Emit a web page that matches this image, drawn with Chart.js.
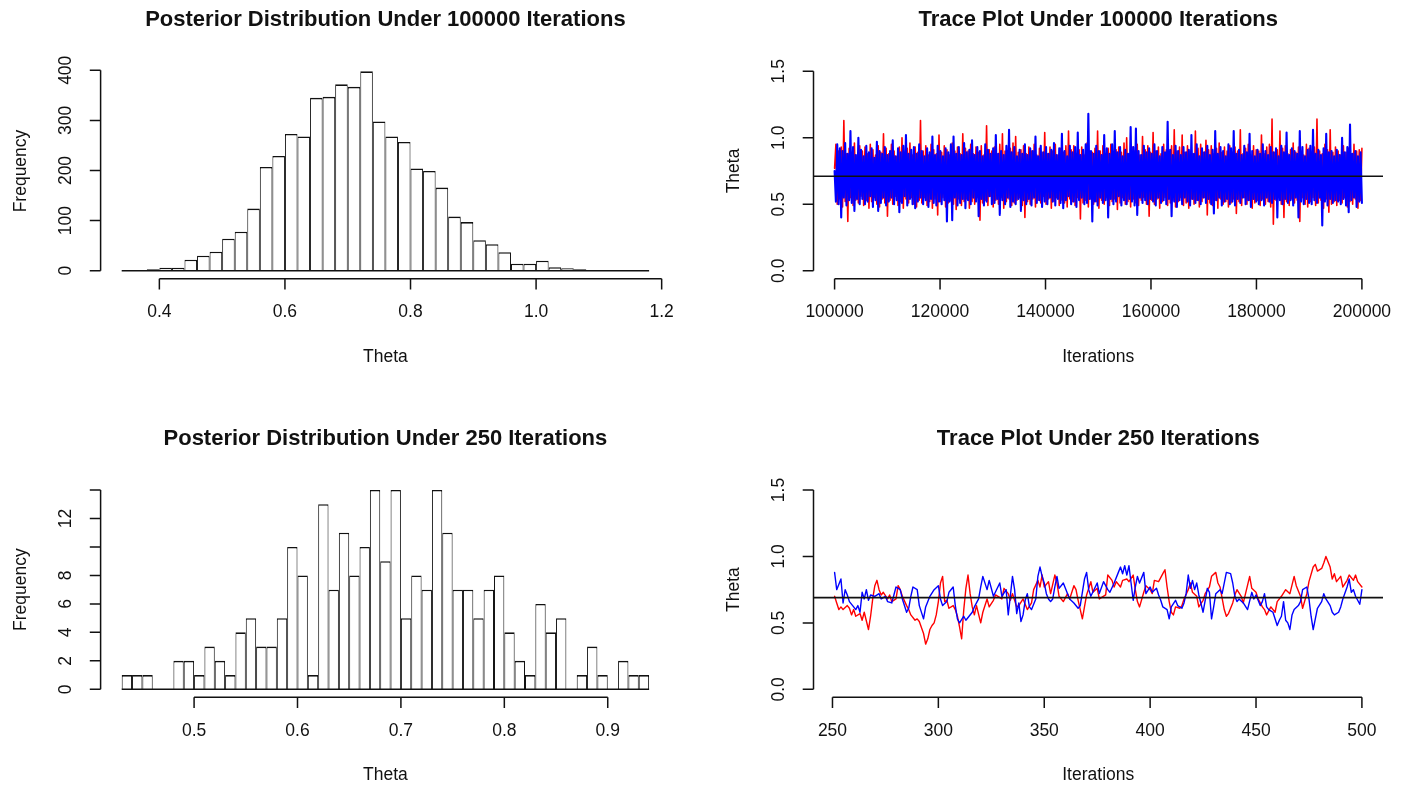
<!DOCTYPE html>
<html>
<head>
<meta charset="utf-8">
<title>Posterior and trace plots</title>
<style>
  html, body { margin: 0; padding: 0; background: #fff; }
  #page { position: relative; width: 1406px; height: 788px; overflow: hidden; }
  #page canvas { position: absolute; }
</style>
</head>
<body>
<div id="page">
  <canvas id="histLong" width="703" height="394" style="left:0;top:0"></canvas>
  <canvas id="traceLong" width="703" height="394" style="left:703px;top:0"></canvas>
  <canvas id="histShort" width="703" height="394" style="left:0;top:394px"></canvas>
  <canvas id="traceShort" width="703" height="394" style="left:703px;top:394px"></canvas>
</div>

<script src="https://cdn.jsdelivr.net/npm/chart.js@4.4.1/dist/chart.umd.min.js"></script>
<script>
    // histogram of theta, 100000 iterations (bins of 0.02 starting at 0.34)
    const binStartLong = 0.34;
    const binWidthLong = 0.02;
    const countsLong = [0, 0, 3, 6, 6, 22, 30, 38, 64, 78, 124, 207, 229, 273, 268, 345, 347, 372, 367, 398,
                        298, 268, 257, 204, 199, 166, 108, 97, 61, 53, 37, 14, 14, 20, 7, 5, 3, 0, 0, 0, 0, 0];

    // histogram of theta, 250 iterations (bins of 0.01 starting at 0.43)
    const binStartShort = 0.43;
    const binWidthShort = 0.01;
    const countsShort = [1, 1, 1, 0, 0, 2, 2, 1, 3, 2, 1, 4, 5, 3, 3, 5, 10, 8, 1, 13, 7, 11, 8, 10, 14, 9,
                         14, 5, 8, 7, 14, 11, 7, 7, 5, 7, 8, 4, 2, 1, 6, 4, 5, 0, 1, 3, 1, 0, 2, 1, 1];

    const histLongTicksX = [0.4, 0.6, 0.8, 1.0, 1.2];
    const histLongLabelsX = ['0.4', '0.6', '0.8', '1.0', '1.2'];
    const histLongTicksY = [0, 100, 200, 300, 400];
    const histLongLabelsY = ['0', '100', '200', '300', '400'];

    const histShortTicksX = [0.5, 0.6, 0.7, 0.8, 0.9];
    const histShortLabelsX = ['0.5', '0.6', '0.7', '0.8', '0.9'];
    const histShortTicksY = [0, 2, 4, 6, 8, 10, 12, 14];
    const histShortLabelsY = ['0', '2', '4', '6', '8', '', '12', ''];

    const thetaTicks = [0, 0.5, 1.0, 1.5];
    const thetaLabels = ['0.0', '0.5', '1.0', '1.5'];

    const traceLongTicksX = [100000, 120000, 140000, 160000, 180000, 200000];
    const traceShortTicksX = [250, 300, 350, 400, 450, 500];

    // chains over iterations 100001..200000 (thinned)
    const longFirstIter = 100001;
    const longLastIter = 200000;
    const redLong = [
        0.77,0.95,0.50,0.90,0.54,0.93,0.48,1.13,0.52,0.88,0.37,0.92,0.55,0.89,0.49,0.96,0.53,0.87,0.51,0.94,
        0.56,0.90,0.49,0.93,0.53,0.88,0.47,0.95,0.52,0.91,0.55,0.87,0.50,0.94,0.48,0.89,0.54,1.03,0.51,0.92,
        0.41,0.88,0.53,0.95,0.50,0.90,0.56,0.86,0.49,0.93,0.52,1.00,0.47,0.89,0.54,0.92,0.51,0.96,0.55,0.87,
        0.50,0.93,0.48,0.89,0.53,1.13,0.51,0.90,0.55,0.94,0.49,0.87,0.52,0.95,0.47,0.91,0.54,0.88,0.42,1.02,
        0.52,0.89,0.55,0.94,0.48,0.91,0.51,0.87,0.53,0.96,0.50,0.90,0.46,0.93,0.54,0.88,0.49,1.03,0.52,0.92,
        0.54,0.90,0.47,0.95,0.52,0.88,0.50,0.93,0.55,0.89,0.38,0.94,0.51,0.87,0.53,1.09,0.49,0.91,0.56,0.90,
        0.48,0.93,0.53,0.88,0.50,0.95,0.55,1.03,0.47,0.90,0.52,0.87,0.54,0.92,0.49,0.96,0.51,1.01,0.53,0.89,
        0.55,0.91,0.49,0.94,0.40,0.88,0.52,0.93,0.50,0.90,0.54,0.95,0.48,0.87,0.53,0.92,0.51,0.89,0.56,1.04,
        0.50,0.88,0.54,0.93,0.47,0.90,0.52,0.95,0.55,0.87,0.49,0.92,0.53,0.89,0.51,0.94,0.48,1.05,0.54,0.91,
        0.52,0.94,0.49,0.88,0.55,0.91,0.39,0.93,0.51,0.87,0.53,0.96,0.48,0.90,0.54,0.89,0.50,0.92,0.52,1.05,
        0.47,0.90,0.53,0.94,0.50,0.88,0.55,0.92,0.49,0.95,0.52,0.87,0.54,0.91,0.46,0.93,0.51,0.89,0.55,0.96,
        0.50,1.00,0.52,0.88,0.48,0.93,0.54,0.90,0.51,0.95,0.49,0.87,0.53,1.01,0.55,0.91,0.50,0.94,0.41,0.89,
        0.53,1.04,0.50,0.90,0.54,0.93,0.47,0.88,0.52,0.95,0.55,0.91,0.49,0.87,0.51,0.94,0.53,1.06,0.48,0.90,
        0.52,0.93,0.55,1.02,0.49,0.89,0.51,0.94,0.47,0.90,0.54,0.88,0.50,1.05,0.53,0.92,0.48,0.95,0.52,0.89,
        0.55,0.98,0.42,0.91,0.51,0.94,0.49,0.88,0.53,0.92,0.47,0.96,0.54,0.89,0.50,0.93,0.52,0.90,0.48,0.94,
        0.51,0.89,0.54,0.93,0.43,0.90,0.52,1.06,0.49,0.88,0.55,0.92,0.50,0.95,0.53,0.87,0.47,0.94,0.51,0.91,
        0.53,0.90,0.49,1.02,0.54,0.88,0.50,0.93,0.52,0.95,0.48,1.14,0.35,0.89,0.53,0.91,0.55,1.05,0.50,0.92,
        0.40,0.94,0.52,0.88,0.49,0.91,0.54,0.96,0.51,0.89,0.53,0.93,0.37,0.90,0.55,0.87,0.50,0.95,0.48,0.92,
        0.52,0.89,0.55,0.93,0.49,1.14,0.51,0.90,0.53,0.88,0.47,0.95,0.54,0.91,0.44,1.06,0.50,0.89,0.52,0.93,
        0.49,0.90,0.53,0.87,0.51,0.94,0.55,0.89,0.48,0.92,0.52,0.88,0.50,0.95,0.54,0.90,0.47,0.91,0.53,0.92
    ];
    const blueLong = [
        0.75,0.52,0.95,0.50,0.92,0.40,0.90,0.55,0.96,0.49,0.88,0.53,1.05,0.51,0.93,0.45,0.87,0.54,1.00,0.50,
        0.91,0.54,0.86,0.50,0.94,0.52,0.89,0.56,0.92,0.48,0.85,0.53,0.97,0.45,0.90,0.51,0.88,0.55,0.93,0.49,
        0.87,0.52,0.90,0.55,0.98,0.50,0.86,0.53,0.92,0.44,0.89,0.51,0.94,0.56,1.02,0.49,0.88,0.54,0.91,0.50,
        0.93,0.47,0.88,0.52,0.95,0.55,0.90,0.50,0.86,0.53,0.92,0.48,0.89,0.54,1.01,0.51,0.87,0.49,0.94,0.52,
        0.90,0.50,0.86,0.53,0.92,0.37,0.89,0.52,0.95,0.38,1.01,0.55,0.88,0.49,0.93,0.51,0.87,0.54,0.96,0.47,
        0.89,0.53,0.91,0.50,0.98,0.55,0.87,0.52,0.93,0.41,0.90,0.54,0.86,0.49,0.95,0.52,0.91,0.56,0.88,0.50,
        0.92,0.51,1.02,0.54,0.88,0.42,0.90,0.53,0.87,0.50,0.94,0.55,1.06,0.48,0.89,0.52,0.93,0.50,0.86,0.54,
        0.91,0.45,0.88,0.53,0.95,0.50,0.87,0.54,0.92,0.49,0.90,0.55,1.01,0.51,0.86,0.53,0.94,0.48,0.89,0.52,
        0.93,0.50,0.88,0.55,0.91,0.52,0.96,0.49,0.87,0.54,0.92,0.51,1.03,0.47,0.90,0.53,0.86,0.56,0.94,0.50,
        0.89,0.52,0.93,0.48,1.04,0.53,0.87,0.55,0.91,0.50,0.95,0.51,1.18,0.54,0.90,0.37,0.88,0.52,0.94,0.49,
        0.90,0.55,0.87,0.51,1.02,0.53,0.92,0.40,0.88,0.54,0.95,0.50,1.05,0.52,0.89,0.56,0.93,0.49,0.86,0.53,
        0.91,0.50,0.88,0.54,1.08,0.52,0.93,0.49,1.07,0.42,0.90,0.55,0.87,0.51,0.94,0.53,0.89,0.50,0.92,0.54,
        0.88,0.52,0.95,0.49,0.90,0.55,0.86,0.51,0.93,0.53,0.89,0.50,1.12,0.54,0.91,0.41,0.87,0.52,0.94,0.48,
        0.90,0.53,0.87,0.50,0.93,0.55,0.89,0.52,0.91,0.49,1.02,0.54,0.88,0.51,0.95,0.53,0.86,0.50,0.92,0.55,
        0.89,0.51,0.94,0.54,0.87,0.50,0.91,0.43,1.05,0.53,0.88,0.55,0.93,0.49,0.90,0.52,0.86,0.54,0.95,0.50,
        0.92,0.52,1.05,0.49,0.88,0.54,0.91,0.51,0.87,0.55,0.94,0.50,0.89,0.53,1.03,0.48,0.90,0.54,0.86,0.52,
        0.91,0.50,0.88,0.53,0.95,0.49,0.90,0.55,0.87,0.52,0.93,0.51,0.89,0.54,0.92,0.40,0.86,0.53,0.94,0.50,
        0.89,0.54,1.04,0.51,0.87,0.53,0.92,0.49,0.90,0.55,0.88,0.40,1.05,0.52,0.93,0.50,0.86,0.54,0.91,0.51,
        0.94,0.50,1.06,0.53,0.88,0.51,0.91,0.55,0.87,0.34,0.92,0.52,1.03,0.49,0.89,0.54,0.90,0.51,0.86,0.53,
        0.91,0.52,0.87,0.50,1.00,0.54,0.89,0.49,0.93,0.44,1.10,0.53,0.88,0.55,0.90,0.48,0.86,0.52,0.89,0.51
    ];
    const meanLong = 0.71;

    // chains over iterations 251..500, [iteration, theta]
    const redShort = [
        [251,0.70],[252,0.65],[253,0.60],[254,0.62],[255,0.60],[257,0.63],[258,0.61],[259,0.56],[260,0.60],[261,0.55],
        [263,0.57],[264,0.52],[265,0.58],[267,0.45],[268,0.55],[269,0.68],[270,0.78],[271,0.82],[272,0.75],[273,0.71],
        [274,0.73],[276,0.68],[277,0.71],[278,0.66],[280,0.68],[281,0.78],[282,0.75],[283,0.70],[285,0.63],[286,0.60],
        [287,0.56],[289,0.52],[290,0.53],[291,0.51],[293,0.42],[294,0.34],[295,0.38],[296,0.45],[297,0.48],[298,0.50],
        [299,0.56],[300,0.66],[301,0.80],[302,0.85],[303,0.66],[304,0.67],[305,0.61],[307,0.63],[308,0.60],[309,0.55],
        [310,0.47],[311,0.38],[312,0.60],[313,0.76],[314,0.86],[315,0.72],[316,0.62],[317,0.56],[318,0.63],[320,0.50],
        [321,0.58],[323,0.68],[324,0.62],[326,0.67],[327,0.71],[330,0.68],[331,0.76],[333,0.72],[334,0.67],[335,0.72],
        [337,0.62],[338,0.63],[340,0.68],[342,0.60],[344,0.65],[345,0.75],[347,0.82],[348,0.77],[349,0.86],[350,0.77],
        [352,0.81],[353,0.72],[355,0.86],[356,0.80],[357,0.70],[359,0.66],[361,0.72],[362,0.68],[364,0.78],[365,0.75],
        [366,0.67],[368,0.53],[369,0.62],[370,0.71],[372,0.81],[373,0.73],[375,0.76],[376,0.68],[379,0.71],[380,0.86],
        [382,0.82],[383,0.77],[384,0.81],[386,0.77],[387,0.82],[389,0.83],[390,0.81],[392,0.86],[393,0.75],[394,0.66],
        [395,0.62],[397,0.73],[398,0.78],[400,0.75],[401,0.72],[402,0.82],[404,0.81],[406,0.87],[407,0.90],[408,0.77],
        [409,0.66],[410,0.58],[411,0.56],[412,0.62],[414,0.61],[415,0.63],[416,0.68],[418,0.75],[419,0.80],[420,0.73],
        [422,0.70],[423,0.62],[425,0.67],[426,0.72],[428,0.77],[429,0.85],[431,0.88],[432,0.80],[433,0.77],[435,0.60],
        [436,0.55],[437,0.57],[439,0.65],[440,0.71],[441,0.75],[443,0.70],[444,0.65],[447,0.85],[448,0.76],[450,0.73],
        [451,0.68],[453,0.62],[454,0.60],[455,0.56],[457,0.62],[459,0.58],[460,0.66],[462,0.70],[464,0.75],[466,0.72],
        [468,0.85],[469,0.78],[471,0.70],[472,0.61],[474,0.72],[475,0.81],[477,0.92],[478,0.94],[479,0.89],[481,0.91],
        [482,0.95],[483,1.00],[485,0.92],[486,0.83],[487,0.87],[488,0.81],[490,0.85],[491,0.77],[493,0.82],[494,0.86],
        [496,0.82],[497,0.86],[498,0.81],[500,0.77]
    ];
    const blueShort = [
        [251,0.88],[252,0.75],[254,0.83],[255,0.65],[256,0.75],[257,0.71],[258,0.66],[260,0.62],[261,0.60],[262,0.63],
        [263,0.58],[264,0.73],[265,0.68],[266,0.75],[267,0.67],[268,0.71],[270,0.70],[272,0.72],[273,0.68],[275,0.70],
        [276,0.66],[278,0.65],[279,0.71],[280,0.77],[282,0.75],[283,0.68],[285,0.58],[286,0.61],[287,0.70],[288,0.77],
        [290,0.75],[291,0.63],[293,0.53],[294,0.62],[296,0.70],[298,0.75],[300,0.78],[301,0.68],[302,0.63],[304,0.66],
        [305,0.73],[307,0.77],[308,0.63],[309,0.53],[310,0.50],[312,0.55],[313,0.52],[316,0.58],[317,0.62],[319,0.68],
        [320,0.77],[321,0.85],[323,0.75],[324,0.82],[326,0.70],[329,0.80],[330,0.70],[332,0.75],[333,0.56],[335,0.85],
        [336,0.75],[337,0.57],[338,0.65],[339,0.51],[340,0.56],[341,0.67],[342,0.72],[343,0.62],[344,0.60],[346,0.68],
        [347,0.85],[348,0.92],[349,0.85],[350,0.80],[351,0.72],[352,0.68],[353,0.66],[354,0.68],[355,0.77],[356,0.85],
        [357,0.76],[359,0.80],[361,0.72],[362,0.68],[364,0.65],[366,0.61],[367,0.63],[369,0.83],[370,0.88],[371,0.75],
        [372,0.70],[375,0.80],[376,0.72],[378,0.81],[380,0.75],[381,0.73],[383,0.80],[385,0.88],[386,0.92],[387,0.87],
        [388,0.93],[389,0.86],[390,0.93],[391,0.80],[392,0.67],[393,0.77],[394,0.85],[395,0.80],[397,0.88],[398,0.72],
        [400,0.77],[401,0.73],[403,0.76],[404,0.71],[405,0.67],[406,0.62],[408,0.60],[409,0.53],[410,0.62],[412,0.67],
        [413,0.63],[415,0.61],[416,0.65],[417,0.72],[418,0.86],[419,0.76],[420,0.82],[421,0.75],[422,0.80],[423,0.71],
        [425,0.58],[426,0.67],[427,0.76],[428,0.73],[429,0.53],[430,0.62],[431,0.72],[433,0.75],[434,0.72],[436,0.88],
        [438,0.87],[439,0.80],[440,0.70],[441,0.66],[442,0.68],[444,0.65],[446,0.60],[448,0.73],[449,0.68],[450,0.71],
        [452,0.63],[453,0.66],[454,0.72],[455,0.62],[456,0.60],[458,0.58],[460,0.48],[461,0.52],[462,0.55],[463,0.66],
        [464,0.52],[465,0.50],[466,0.45],[467,0.56],[468,0.60],[470,0.63],[471,0.66],[472,0.75],[474,0.77],[475,0.68],
        [476,0.55],[477,0.45],[478,0.53],[479,0.61],[481,0.66],[482,0.72],[483,0.68],[485,0.63],[486,0.58],[487,0.56],
        [489,0.58],[490,0.62],[491,0.68],[493,0.77],[494,0.83],[495,0.73],[496,0.75],[497,0.70],[499,0.64],[500,0.75]
    ];
    const meanShort = 0.69;


    const ink = '#111';
    const FONT = '"Liberation Sans", Arial, sans-serif';

    // R pads the data range by 4% on each side
    function rLimits(lo, hi) {
        const d = (hi - lo) * 0.04;
        return [lo - d, hi + d];
    }

    // draws base-graphics style axes, tick labels and titles around the chart area
    const rAxes = {
        id: 'rAxes',
        afterDraw(chart, args, o) {
            const { ctx, chartArea: a, scales: { x, y } } = chart;
            const tick = 10.8;
            ctx.save();
            ctx.strokeStyle = ink;
            ctx.fillStyle = ink;
            ctx.lineWidth = 1.5;

            const xs = o.xTicks.map(v => x.getPixelForValue(v));
            const ys = o.yTicks.map(v => y.getPixelForValue(v));
            ctx.beginPath();
            ctx.moveTo(xs[0], a.bottom);
            ctx.lineTo(xs[xs.length - 1], a.bottom);
            xs.forEach(px => { ctx.moveTo(px, a.bottom); ctx.lineTo(px, a.bottom + tick); });
            ctx.moveTo(a.left, ys[0]);
            ctx.lineTo(a.left, ys[ys.length - 1]);
            ys.forEach(py => { ctx.moveTo(a.left, py); ctx.lineTo(a.left - tick, py); });
            ctx.stroke();

            ctx.textAlign = 'center';
            ctx.textBaseline = 'middle';
            ctx.font = '17.5px ' + FONT;
            xs.forEach((px, i) => ctx.fillText(o.xLabels[i], px, a.bottom + 33.5));
            ys.forEach((py, i) => {
                ctx.save();
                ctx.translate(a.left - 34.5, py);
                ctx.rotate(-Math.PI / 2);
                ctx.fillText(o.yLabels[i], 0, 0);
                ctx.restore();
            });

            const cx = (a.left + a.right) / 2;
            const cy = (a.top + a.bottom) / 2;
            ctx.fillText(o.xTitle, cx, a.bottom + 78);
            ctx.save();
            ctx.translate(a.left - 79.5, cy);
            ctx.rotate(-Math.PI / 2);
            ctx.fillText(o.yTitle, 0, 0);
            ctx.restore();

            ctx.font = 'bold 22px ' + FONT;
            ctx.fillText(o.title, cx, a.top - 43);
            ctx.restore();
        }
    };

    function baseOptions(pad, xMin, xMax, yMin, yMax, axes) {
        return {
            responsive: false,
            animation: false,
            devicePixelRatio: 1,
            events: [],
            layout: { padding: pad },
            plugins: { legend: { display: false }, tooltip: { enabled: false }, rAxes: axes },
            scales: {
                x: { type: 'linear', display: false, min: xMin, max: xMax, offset: false },
                y: { type: 'linear', display: false, min: yMin, max: yMax }
            }
        };
    }

    function histChart(id, start, width, counts, axes, pad) {
        const bars = counts.map((c, i) => ({ x: start + (i + 0.5) * width, y: c }));
        const end = start + counts.length * width;
        const [xMin, xMax] = rLimits(start, end);
        const [yMin, yMax] = rLimits(0, Math.max(...counts));
        return new Chart(id, {
            type: 'bar',
            data: {
                datasets: [
                    { type: 'line', data: [{ x: start, y: 0 }, { x: end, y: 0 }], borderColor: ink,
                      borderWidth: 1.5, pointRadius: 0, order: 0 },
                    { data: bars, backgroundColor: '#fff', borderColor: ink,
                      borderWidth: { top: 1.6, left: 1, right: 1, bottom: 0 },
                      barPercentage: 1, categoryPercentage: 1, inflateAmount: 0, order: 1 }
                ]
            },
            options: baseOptions(pad, xMin, xMax, yMin, yMax, axes),
            plugins: [rAxes]
        });
    }

    function traceChart(id, red, blue, mean, firstIter, lastIter, widths, axes, pad) {
        const [xMin, xMax] = rLimits(firstIter, lastIter);
        const [yMin, yMax] = rLimits(0, 1.5);
        const chainStyle = { pointRadius: 0, borderJoinStyle: 'round', borderCapStyle: 'round' };
        return new Chart(id, {
            type: 'line',
            data: {
                datasets: [
                    { data: [{ x: xMin, y: mean }, { x: xMax, y: mean }], borderColor: ink, borderWidth: 1.6,
                      pointRadius: 0, order: 0 },
                    Object.assign({ data: blue, borderColor: '#0000ff', borderWidth: widths[1], order: 1 }, chainStyle),
                    Object.assign({ data: red, borderColor: '#ff0000', borderWidth: widths[0], order: 2 }, chainStyle)
                ]
            },
            options: baseOptions(pad, xMin, xMax, yMin, yMax, axes),
            plugins: [rAxes]
        });
    }

    const padTopLeft = { left: 100.6, right: 32.8, top: 63.3, bottom: 115.3 };
    const padTopRight = { left: 110.5, right: 23, top: 63.3, bottom: 115.3 };
    const padBottomLeft = { left: 100.6, right: 32.8, top: 88, bottom: 90.7 };
    const padBottomRight = { left: 110.5, right: 23, top: 88, bottom: 90.7 };

    histChart('histLong', binStartLong, binWidthLong, countsLong, {
        title: 'Posterior Distribution Under 100000 Iterations', xTitle: 'Theta', yTitle: 'Frequency',
        xTicks: histLongTicksX, xLabels: histLongLabelsX, yTicks: histLongTicksY, yLabels: histLongLabelsY
    }, padTopLeft);

    histChart('histShort', binStartShort, binWidthShort, countsShort, {
        title: 'Posterior Distribution Under 250 Iterations', xTitle: 'Theta', yTitle: 'Frequency',
        xTicks: histShortTicksX, xLabels: histShortLabelsX, yTicks: histShortTicksY, yLabels: histShortLabelsY
    }, padBottomLeft);

    const longStep = (longLastIter - longFirstIter) / (redLong.length - 1);
    const redLongPts = redLong.map((v, i) => ({ x: longFirstIter + i * longStep, y: v }));
    const blueLongPts = blueLong.map((v, i) => ({ x: longFirstIter + i * longStep, y: v }));

    traceChart('traceLong', redLongPts, blueLongPts, meanLong, longFirstIter, longLastIter, [1.6, 2.1], {
        title: 'Trace Plot Under 100000 Iterations', xTitle: 'Iterations', yTitle: 'Theta',
        xTicks: traceLongTicksX, xLabels: traceLongTicksX.map(String), yTicks: thetaTicks, yLabels: thetaLabels
    }, padTopRight);

    traceChart('traceShort',
        redShort.map(p => ({ x: p[0], y: p[1] })),
        blueShort.map(p => ({ x: p[0], y: p[1] })),
        meanShort, 251, 500, [1.4, 1.4], {
        title: 'Trace Plot Under 250 Iterations', xTitle: 'Iterations', yTitle: 'Theta',
        xTicks: traceShortTicksX, xLabels: traceShortTicksX.map(String), yTicks: thetaTicks, yLabels: thetaLabels
    }, padBottomRight);
</script>
</body>
</html>
